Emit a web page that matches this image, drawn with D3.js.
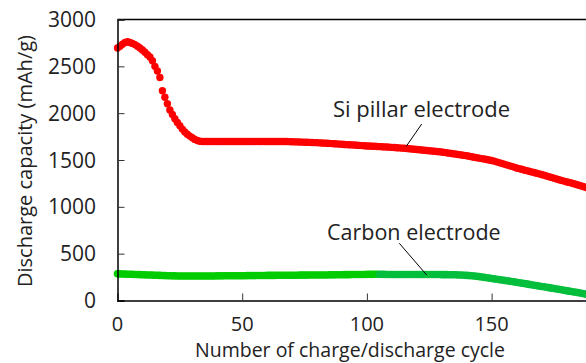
<!DOCTYPE html>
<html><head><meta charset="utf-8">
<script src="https://cdn.jsdelivr.net/npm/d3@7"></script>
<style>body{margin:0;background:#fff}svg{display:block}text{font-family:"Open Sans",sans-serif;fill:#222}</style>
</head><body><svg id="c" width="586" height="363"></svg>
<script>
const xTicks = [0, 50, 100, 150];
const yTicks = [0, 500, 1000, 1500, 2000, 2500, 3000];
const xTitle = "Number of charge/discharge cycle";
const yTitle = "Discharge capacity (mAh/g)";
const siLabel = "Si pillar electrode";
const carbonLabel = "Carbon electrode";
// Si pillar electrode capacity, cycle 0..188
const siValues = [
2695,2715,2735,2755,2762,2755,2745,2732,2715,2695,
2675,2650,2625,2600,2560,2500,2450,2380,2240,2170,
2100,2035,1985,1940,1900,1865,1830,1800,1775,1755,
1737,1720,1708,1700,1698,1698,1698,1698,1698,1698,
1698,1698,1698,1698,1698,1698,1698,1698,1698,1698,
1698,1698,1698,1698,1698,1698,1698,1698,1698,1698,
1698,1698,1698,1698,1698,1698,1698,1697,1697,1696,
1695,1694,1693,1692,1691,1690,1689,1688,1687,1686,
1685,1683,1682,1680,1679,1677,1675,1674,1672,1670,
1668,1666,1664,1663,1661,1660,1658,1656,1654,1652,
1650,1649,1647,1646,1644,1643,1641,1640,1638,1637,
1635,1633,1631,1629,1627,1625,1623,1620,1617,1615,
1612,1609,1607,1604,1602,1599,1596,1593,1590,1588,
1585,1581,1577,1573,1569,1565,1561,1557,1553,1549,
1545,1540,1535,1530,1525,1520,1515,1510,1505,1500,
1495,1488,1480,1472,1464,1456,1448,1440,1432,1424,
1415,1408,1401,1394,1387,1380,1373,1366,1359,1352,
1345,1338,1330,1322,1314,1306,1298,1290,1282,1275,
1268,1261,1254,1246,1238,1230,1222,1214,1206];
// Carbon electrode capacity, cycle 0..188
const carbonValues = [
285,284,283,282,281,280,279,278,277,276,
275,274,273,272,271,270,269,268,267,266,
265,264,263,263,262,262,262,262,262,262,
262,262,262,262,262,262,262,262,262,262,
263,263,263,264,264,264,264,265,265,265,
265,265,266,266,266,266,267,267,267,267,
268,268,268,268,269,269,269,269,270,270,
270,270,270,271,271,271,271,272,272,272,
272,273,273,273,273,274,274,274,275,275,
275,276,276,276,277,277,277,278,278,278,
279,279,279,280,280,280,279,279,278,278,
278,278,278,278,278,278,278,278,278,278,
277,277,277,277,277,277,277,277,277,277,
276,276,276,275,275,275,274,273,272,270,
268,266,264,261,258,255,251,247,243,239,
235,231,227,223,219,215,211,207,203,199,
195,190,186,181,177,172,168,163,159,154,
150,146,141,137,132,128,123,119,114,110,
105,100,96,91,87,82,77,72,67];
const carbonSplit = 105;

const svg = d3.select("#c");
const L = 117.5, T = 19.5, B = 300.5;
const x = d3.scaleLinear().domain([0, 200]).range([L, L + 4 * 124.7]);
const y = d3.scaleLinear().domain([0, 3000]).range([B, T]);

// frame top line
svg.append("line").attr("x1", L).attr("x2", 586).attr("y1", T).attr("y2", T)
  .attr("stroke", "#000").attr("stroke-width", 1.3);

// data
const gC = svg.append("g");
gC.selectAll("circle").data(carbonValues).join("circle")
  .attr("cx", (d, i) => x(i)).attr("cy", d => y(d)).attr("r", 3.8)
  .attr("fill", (d, i) => i < carbonSplit ? "#00cc00" : "#04be3c");
const gS = svg.append("g");
gS.selectAll("circle").data(siValues).join("circle")
  .attr("cx", (d, i) => x(i)).attr("cy", d => y(d)).attr("r", 3.7)
  .attr("fill", "#ff0000");

// axes
const yAxis = d3.axisRight(y).tickValues(yTicks).tickSize(7).tickFormat("");
const yg = svg.append("g").attr("transform", `translate(${L},0)`).call(yAxis);
yg.select(".domain").attr("stroke", "#000").attr("stroke-width", 1.5);
yg.selectAll(".tick line").attr("stroke", "#333");
svg.append("g").selectAll("text").data(yTicks).join("text")
  .attr("x", 96).attr("y", d => y(d)).attr("dy", "0.36em")
  .attr("text-anchor", "end").attr("font-size", 21).text(d => d);

const xAxis = d3.axisTop(x).tickValues(xTicks).tickSize(7).tickFormat("");
const xg = svg.append("g").attr("transform", `translate(0,${B})`).call(xAxis);
xg.select(".domain").attr("stroke", "#000").attr("stroke-width", 1.5);
xg.selectAll(".tick line").attr("stroke", "#333");
svg.append("g").selectAll("text").data(xTicks).join("text")
  .attr("x", d => x(d)).attr("y", 331)
  .attr("text-anchor", "middle").attr("font-size", 20).text(d => d);

// titles
svg.append("text").attr("x", 350).attr("y", 357).attr("text-anchor", "middle")
  .attr("font-size", 19.5).text(xTitle);
svg.append("text").attr("transform", "translate(32,161) rotate(-90)")
  .attr("text-anchor", "middle").attr("font-size", 20).text(yTitle);

// annotations
svg.append("text").attr("x", 333).attr("y", 117).attr("font-size", 22).text(siLabel);
svg.append("line").attr("x1", 421.7).attr("y1", 124).attr("x2", 406).attr("y2", 146.7)
  .attr("stroke", "#000").attr("stroke-width", 1);
svg.append("text").attr("x", 327).attr("y", 240).attr("font-size", 21.5).text(carbonLabel);
svg.append("line").attr("x1", 399.3).attr("y1", 243.3).attr("x2", 426.7).attr("y2", 275)
  .attr("stroke", "#000").attr("stroke-width", 1);
</script></body></html>
